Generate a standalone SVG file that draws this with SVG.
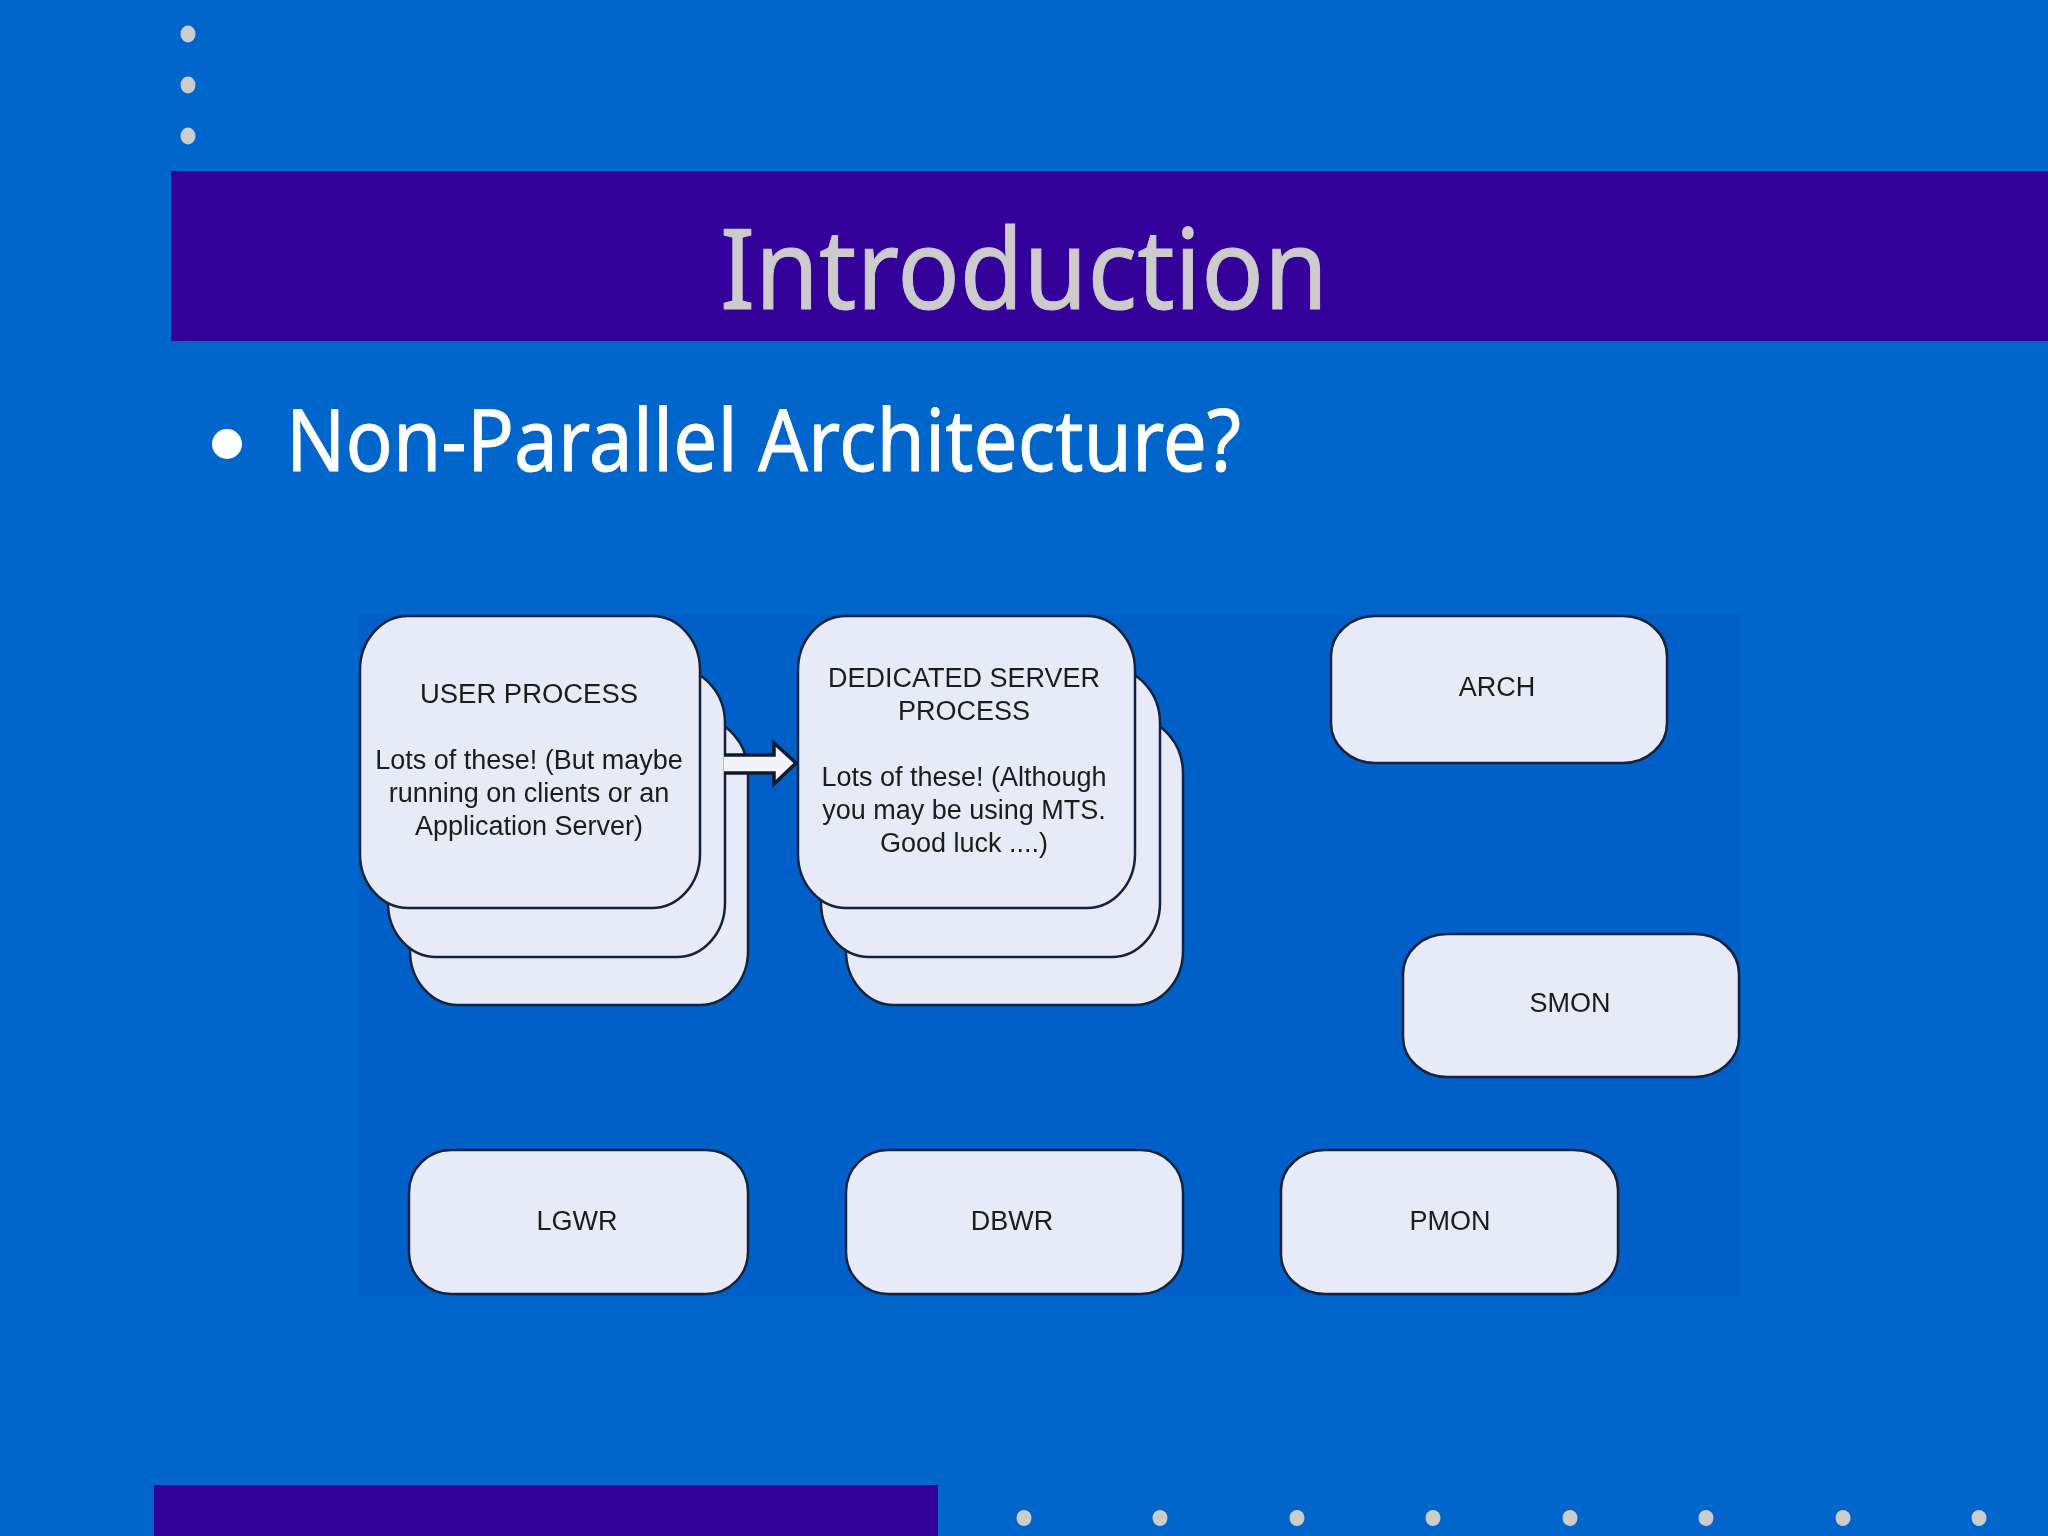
<svg xmlns="http://www.w3.org/2000/svg" width="2048" height="1536" viewBox="0 0 2048 1536">
<defs><filter id="soft" x="-5%" y="-5%" width="110%" height="110%"><feGaussianBlur stdDeviation="0.7"/></filter></defs>
<style>
.dot{fill:#cccccc}
.band{fill:#330099}
.box{fill:#e6ebf7;stroke:#16233a;stroke-width:2.5}
.lbl{font-family:"Liberation Sans",Arial,sans-serif;font-size:27px;fill:#1a1a1a;text-anchor:middle}
.head{font-family:"Noto Sans","Open Sans",sans-serif}
</style>
<rect width="2048" height="1536" fill="#0066cc"/>
<g id="decor">
<ellipse class="dot" cx="188" cy="34" rx="7.5" ry="8.5"/><ellipse class="dot" cx="188" cy="85" rx="7.5" ry="8.5"/><ellipse class="dot" cx="188" cy="136" rx="7.5" ry="8.5"/>
<rect class="band" x="171" y="171" width="1877" height="170"/>
<rect class="band" x="154" y="1485" width="784" height="51"/>
<ellipse class="dot" cx="1024" cy="1518" rx="7.5" ry="8"/><ellipse class="dot" cx="1160" cy="1518" rx="7.5" ry="8"/><ellipse class="dot" cx="1297" cy="1518" rx="7.5" ry="8"/><ellipse class="dot" cx="1433" cy="1518" rx="7.5" ry="8"/><ellipse class="dot" cx="1570" cy="1518" rx="7.5" ry="8"/><ellipse class="dot" cx="1706" cy="1518" rx="7.5" ry="8"/><ellipse class="dot" cx="1843" cy="1518" rx="7.5" ry="8"/><ellipse class="dot" cx="1979" cy="1518" rx="7.5" ry="8"/>
</g>
<text id="title" class="head" x="720" y="309" font-size="112" fill="#cccccc" stroke="#cccccc" stroke-width="1" textLength="608" lengthAdjust="spacingAndGlyphs">Introduction</text>
<g id="bullet">
<circle cx="227" cy="444" r="15" fill="#ffffff"/>
<text class="head" x="286" y="471" font-size="85" fill="#ffffff" stroke="#ffffff" stroke-width="0.8" textLength="955" lengthAdjust="spacingAndGlyphs">Non-Parallel Architecture?</text>
</g>
<rect id="panel" x="358" y="614" width="1382" height="682" fill="#0060c8"/>
<g filter="url(#soft)">
<g id="user-process-stack">
<rect class="box" x="410" y="719" width="338" height="286" rx="48" ry="54"/>
<rect class="box" x="388" y="669" width="337" height="288" rx="48" ry="54"/>
<rect class="box" x="360" y="616" width="340" height="292" rx="48" ry="54"/>
<text class="lbl"><tspan x="529" y="703" textLength="218" lengthAdjust="spacingAndGlyphs">USER PROCESS</tspan><tspan x="529" y="769">Lots of these! (But maybe</tspan><tspan x="529" y="802">running on clients or an</tspan><tspan x="529" y="835">Application Server)</tspan></text>
</g>
<g id="dedicated-server-stack">
<rect class="box" x="846" y="719" width="337" height="286" rx="48" ry="54"/>
<rect class="box" x="821" y="669" width="339" height="288" rx="48" ry="54"/>
<rect class="box" x="798" y="616" width="337" height="292" rx="48" ry="54"/>
<text class="lbl"><tspan x="964" y="687">DEDICATED SERVER</tspan><tspan x="964" y="720">PROCESS</tspan><tspan x="964" y="786">Lots of these! (Although</tspan><tspan x="964" y="819">you may be using MTS.</tspan><tspan x="964" y="852">Good luck ....)</tspan></text>
</g>
<g id="arch"><rect class="box" x="1331" y="616" width="336" height="147" rx="44" ry="40"/><text class="lbl" x="1497" y="696">ARCH</text></g>
<g id="smon"><rect class="box" x="1403" y="934" width="336" height="143" rx="44" ry="40"/><text class="lbl" x="1570" y="1012">SMON</text></g>
<g id="lgwr"><rect class="box" x="409" y="1150" width="339" height="144" rx="42" ry="42"/><text class="lbl" x="577" y="1230">LGWR</text></g>
<g id="dbwr"><rect class="box" x="846" y="1150" width="337" height="144" rx="42" ry="42"/><text class="lbl" x="1012" y="1230">DBWR</text></g>
<g id="pmon"><rect class="box" x="1281" y="1150" width="337" height="144" rx="44" ry="40"/><text class="lbl" x="1450" y="1230">PMON</text></g>
<g id="connectors">
<path d="M724 755H774V743L796 763L774 784V773H724Z" fill="#f2f4fa"/>
<path d="M724 755H774V743L796 763L774 784V773H724" fill="none" stroke="#111a2c" stroke-width="3.5"/>
</g>
</g>
</svg>
